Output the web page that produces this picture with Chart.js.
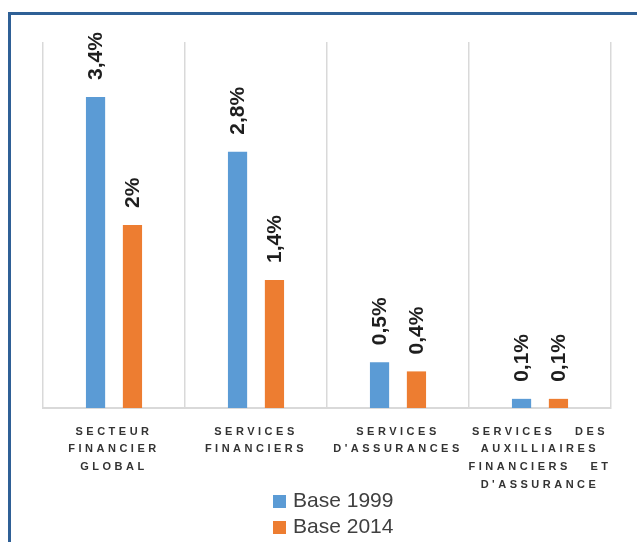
<!DOCTYPE html>
<html>
<head>
<meta charset="utf-8">
<script src="https://cdn.jsdelivr.net/npm/chart.js@4/dist/chart.umd.min.js"></script>
<style>
  html, body { margin: 0; padding: 0; background: #fff; }
  #wrap { position: relative; width: 637px; height: 542px; overflow: hidden; }
  #frame {
    position: absolute; left: 8px; top: 12px; width: 700px; height: 600px;
    border: 3px solid #2f6096; box-sizing: border-box;
  }
  #salesChart { position: absolute; left: 0; top: 0; }
  #legend { position: absolute; left: 273px; top: 487px; font-family: "Liberation Sans", Arial, sans-serif; font-size: 21px; color: #404040; }
  #legend .item { height: 26px; line-height: 26px; white-space: nowrap; }
  #legend .box { display: inline-block; width: 13px; height: 13px; margin-right: 7px; vertical-align: -1px; }
</style>
</head>
<body>
<div id="wrap">
  <div id="frame"></div>
  <canvas id="salesChart" width="637" height="542"></canvas>
  <div id="legend"></div>
</div>
<script>
const categories = [
  ['SECTEUR', 'FINANCIER', 'GLOBAL'],
  ['SERVICES', 'FINANCIERS'],
  ['SERVICES', "D'ASSURANCES"],
  ['SERVICES   DES', 'AUXILLIAIRES', 'FINANCIERS   ET', "D'ASSURANCE"]
];
const seriesNames = ['Base 1999', 'Base 2014'];
const base1999 = [3.4, 2.8, 0.5, 0.1];
const base2014 = [2, 1.4, 0.4, 0.1];
const colors = ['#5b9bd5', '#ed7d31'];

const fmt = (v) => String(v).replace('.', ',') + '%';

// etiquettes verticales au-dessus des barres + espacement des lettres de l'axe x
const barLabels = {
  id: 'barLabels',
  afterDatasetsDraw(chart) {
    const { ctx } = chart;
    chart.data.datasets.forEach((ds, di) => {
      chart.getDatasetMeta(di).data.forEach((bar, i) => {
        ctx.save();
        ctx.translate(bar.x + 1, bar.y - 17);
        ctx.rotate(-Math.PI / 2);
        ctx.font = 'bold 21px "Liberation Sans", Arial, sans-serif';
        ctx.fillStyle = '#1e1e1e';
        ctx.textAlign = 'left';
        ctx.textBaseline = 'middle';
        ctx.fillText(fmt(ds.data[i]), 0, 0);
        ctx.restore();
      });
    });
    ctx.letterSpacing = '3.5px';
  },
  afterDraw(chart) {
    chart.ctx.letterSpacing = '0px';
  }
};

const ctx = document.getElementById('salesChart').getContext('2d');

const chart = new Chart(ctx, {
  type: 'bar',
  data: {
    labels: categories,
    datasets: [
      { label: seriesNames[0], data: base1999, backgroundColor: colors[0] },
      { label: seriesNames[1], data: base2014, backgroundColor: colors[1] }
    ]
  },
  options: {
    responsive: false,
    animation: false,
    categoryPercentage: 0.52,
    barPercentage: 0.52,
    layout: { padding: { left: 43, right: 26, top: 42, bottom: 0 } },
    plugins: {
      legend: { display: false },
      tooltip: { enabled: false }
    },
    scales: {
      y: { display: false, min: 0, max: 4 },
      x: {
        afterFit: (scale) => { scale.height = 134; },
        grid: { offset: true, color: '#d9d9d9', lineWidth: 1.5, drawTicks: false },
        border: { color: '#d9d9d9', width: 2 },
        ticks: {
          z: 1,
          padding: 15,
          maxRotation: 0,
          autoSkip: false,
          color: '#333333',
          font: { family: '"Liberation Sans", Arial, sans-serif', weight: 'bold', size: 11, lineHeight: 1.6 }
        }
      }
    }
  },
  plugins: [barLabels]
});

// légende
const legend = document.getElementById('legend');
chart.data.datasets.forEach((ds) => {
  const item = document.createElement('div');
  item.className = 'item';
  const box = document.createElement('span');
  box.className = 'box';
  box.style.background = ds.backgroundColor;
  item.appendChild(box);
  item.appendChild(document.createTextNode(ds.label));
  legend.appendChild(item);
});
</script>
</body>
</html>
